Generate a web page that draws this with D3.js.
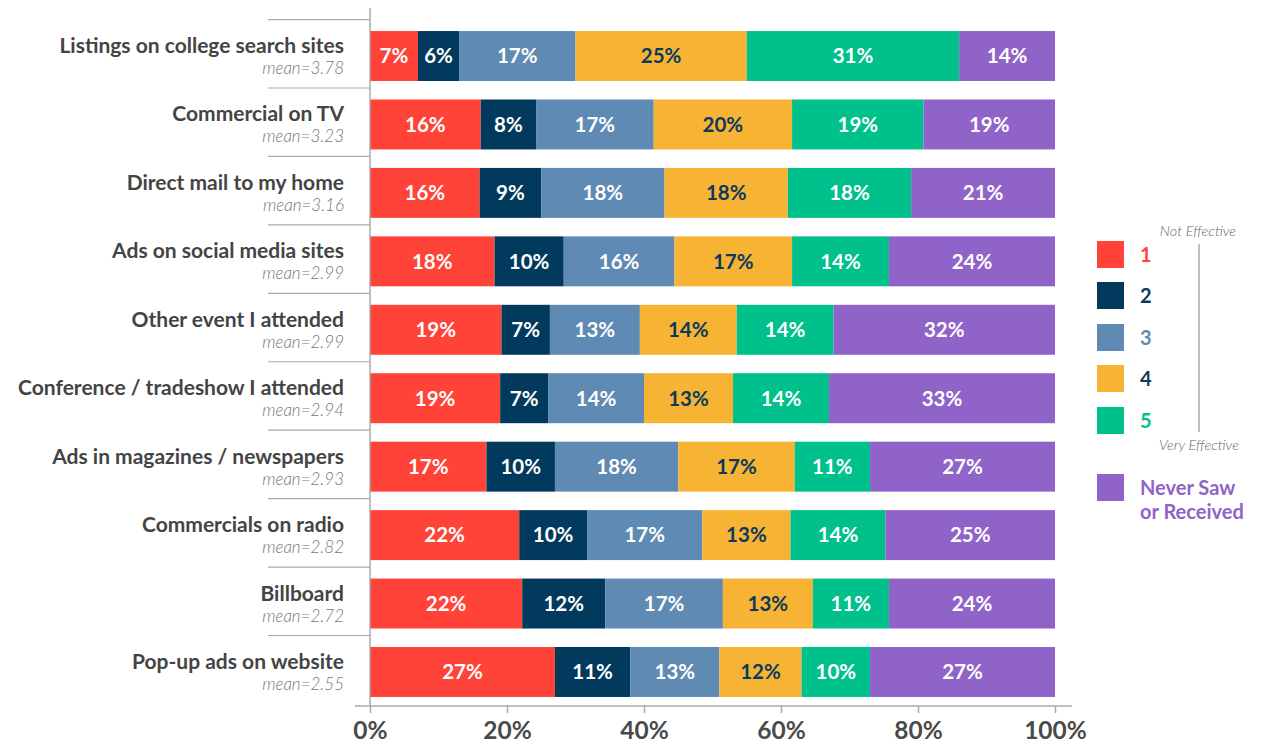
<!DOCTYPE html>
<html>
<head>
    <title>Advertising effectiveness</title>
    <script src="https://d3js.org/d3.v7.min.js"></script>
    <style>
        body { margin: 0; background: #fff; }
        text { font-family: Lato, "Open Sans", sans-serif; }
    </style>
</head>
<body>
    <div id="chart"></div>

    <script>
        // Data
        var categories = [
            "Listings on college search sites",
            "Commercial on TV",
            "Direct mail to my home",
            "Ads on social media sites",
            "Other event I attended",
            "Conference / tradeshow I attended",
            "Ads in magazines / newspapers",
            "Commercials on radio",
            "Billboard",
            "Pop-up ads on website"
        ];
        var means = ["3.78", "3.23", "3.16", "2.99", "2.99", "2.94", "2.93", "2.82", "2.72", "2.55"];

        var seriesKeys = ["1", "2", "3", "4", "5", "never"];
        var seriesLabels = ["1", "2", "3", "4", "5", "Never Saw or Received"];

        var s1 = [7, 16, 16, 18, 19, 19, 17, 22, 22, 27];
        var s2 = [6, 8, 9, 10, 7, 7, 10, 10, 12, 11];
        var s3 = [17, 17, 18, 16, 13, 14, 18, 17, 17, 13];
        var s4 = [25, 20, 18, 17, 14, 13, 17, 13, 13, 12];
        var s5 = [31, 19, 18, 14, 14, 14, 11, 14, 11, 10];
        var sNever = [14, 19, 21, 24, 32, 33, 27, 25, 24, 27];

        var tickValues = [0, 0.2, 0.4, 0.6, 0.8, 1];

        var colors = ["#ff4338", "#023a5d", "#5e8ab4", "#f7b334", "#00c08b", "#9063c9"];
        var labelColors = ["#fff", "#fff", "#fff", "#0b3a5c", "#fff", "#fff"];
        var legendTextColors = ["#ff4338", "#0b3a5c", "#5e8ab4", "#0b3a5c", "#00c08b", "#9063c9"];

        // build rows for the stack
        var allSeries = [s1, s2, s3, s4, s5, sNever];
        var rows = categories.map(function(c, i) {
            var r = { category: c, mean: means[i] };
            seriesKeys.forEach(function(k, j) { r[k] = allSeries[j][i]; });
            return r;
        });

        var width = 1269, height = 747;

        var svg = d3.select("#chart")
            .append("svg")
            .attr("width", width)
            .attr("height", height);

        var x = d3.scaleLinear().domain([0, 1]).range([370, 1055]);
        var y = d3.scaleBand()
            .domain(categories)
            .range([21.8, 706.2])
            .paddingInner(0.27)
            .paddingOuter(0.135);

        var stack = d3.stack().keys(seriesKeys).offset(d3.stackOffsetExpand);
        var stacked = stack(rows);

        // row separators on the left
        svg.append("g").selectAll("line")
            .data(categories)
            .enter()
            .append("line")
            .attr("x1", 268)
            .attr("x2", 370)
            .attr("y1", function(d) { return y(d) - 11.5; })
            .attr("y2", function(d) { return y(d) - 11.5; })
            .attr("stroke", "#aaa")
            .attr("stroke-width", 1.2);

        // bars
        var layer = svg.append("g").selectAll("g")
            .data(stacked)
            .enter()
            .append("g")
            .attr("fill", function(d, i) { return colors[i]; });

        layer.selectAll("rect")
            .data(function(d) { return d; })
            .enter()
            .append("rect")
            .attr("x", function(d) { return x(d[0]); })
            .attr("width", function(d) { return x(d[1]) - x(d[0]); })
            .attr("y", function(d) { return y(d.data.category); })
            .attr("height", y.bandwidth());

        // segment labels
        stacked.forEach(function(s, i) {
            svg.append("g").selectAll("text")
                .data(s)
                .enter()
                .append("text")
                .attr("x", function(d) { return (x(d[0]) + x(d[1])) / 2; })
                .attr("y", function(d) { return y(d.data.category) + y.bandwidth() / 2; })
                .attr("dy", "0.36em")
                .attr("text-anchor", "middle")
                .attr("font-size", 20.5)
                .attr("font-weight", 700)
                .attr("fill", labelColors[i])
                .text(function(d) { return d.data[s.key] + "%"; });
        });

        // category labels + means
        var lab = svg.append("g").selectAll("g")
            .data(rows)
            .enter()
            .append("g");

        lab.append("text")
            .attr("x", 344)
            .attr("y", function(d) { return y(d.category) + 22; })
            .attr("text-anchor", "end")
            .attr("font-size", 21)
            .attr("font-weight", 700)
            .attr("fill", "#444")
            .text(function(d) { return d.category; });

        lab.append("text")
            .attr("x", 344)
            .attr("y", function(d) { return y(d.category) + 43; })
            .attr("text-anchor", "end")
            .attr("font-size", 17)
            .attr("font-style", "italic")
            .attr("font-weight", 300)
            .attr("fill", "#777")
            .text(function(d) { return "mean=" + d.mean; });

        // vertical axis line
        svg.append("line")
            .attr("x1", 370).attr("x2", 370)
            .attr("y1", 8).attr("y2", 706)
            .attr("stroke", "#aaa")
            .attr("stroke-width", 1.5);

        // x axis
        var xAxis = svg.append("g")
            .attr("transform", "translate(0,706)")
            .call(d3.axisBottom(x)
                .tickValues(tickValues)
                .tickSize(7)
                .tickPadding(9)
                .tickFormat(d3.format(".0%")));

        xAxis.select(".domain")
            .attr("d", "M355,0H1072")
            .attr("stroke", "#aaa")
            .attr("stroke-width", 1.5);
        xAxis.selectAll(".tick line").attr("stroke", "#aaa").attr("stroke-width", 1.5);
        xAxis.selectAll(".tick text")
            .attr("font-family", "Lato, sans-serif")
            .attr("font-size", 24.5)
            .attr("font-weight", 700)
            .attr("fill", "#4a4a4a");

        // legend
        var legendY = [241, 282, 324, 365, 407, 474];
        var legend = svg.append("g");

        legend.selectAll("rect")
            .data(seriesKeys)
            .enter()
            .append("rect")
            .attr("x", 1097)
            .attr("y", function(d, i) { return legendY[i]; })
            .attr("width", 27)
            .attr("height", 27)
            .attr("fill", function(d, i) { return colors[i]; });

        legend.selectAll("text.num")
            .data(seriesLabels.slice(0, 5))
            .enter()
            .append("text")
            .attr("class", "num")
            .attr("x", 1140)
            .attr("y", function(d, i) { return legendY[i] + 14; })
            .attr("dy", "0.36em")
            .attr("font-size", 20)
            .attr("font-weight", 700)
            .attr("fill", function(d, i) { return legendTextColors[i]; })
            .text(function(d) { return d; });

        var neverText = legend.append("text")
            .attr("x", 1140)
            .attr("y", 495)
            .attr("font-size", 20)
            .attr("font-weight", 700)
            .attr("fill", legendTextColors[5]);
        neverText.append("tspan").attr("x", 1140).text("Never Saw");
        neverText.append("tspan").attr("x", 1140).attr("dy", 24).text("or Received");

        legend.append("line")
            .attr("x1", 1199).attr("x2", 1199)
            .attr("y1", 244).attr("y2", 432)
            .attr("stroke", "#aaa")
            .attr("stroke-width", 1.5);

        legend.append("text")
            .attr("x", 1198).attr("y", 236)
            .attr("text-anchor", "middle")
            .attr("font-size", 14.5)
            .attr("font-style", "italic")
            .attr("font-weight", 300)
            .attr("fill", "#666")
            .text("Not Effective");

        legend.append("text")
            .attr("x", 1199).attr("y", 450)
            .attr("text-anchor", "middle")
            .attr("font-size", 14.5)
            .attr("font-style", "italic")
            .attr("font-weight", 300)
            .attr("fill", "#666")
            .text("Very Effective");
    </script>
</body>
</html>
